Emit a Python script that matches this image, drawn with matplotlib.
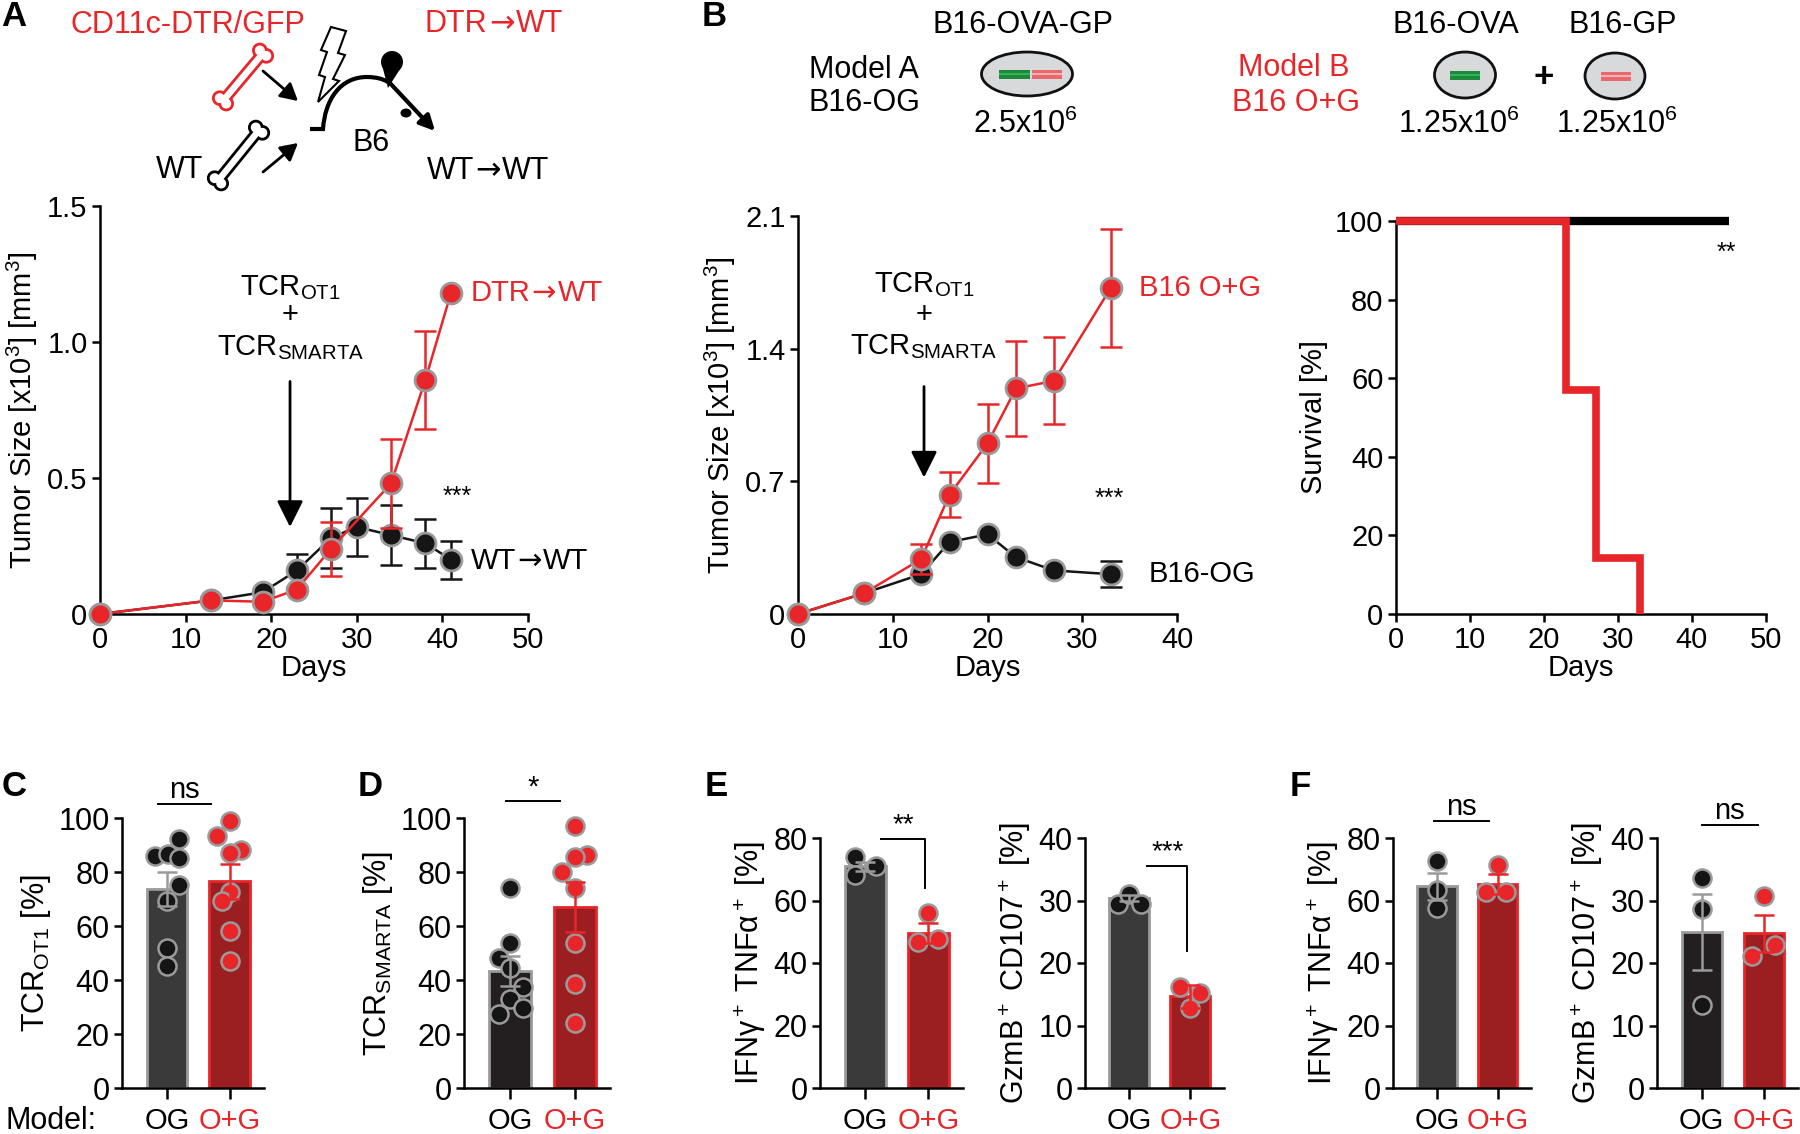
import matplotlib
matplotlib.use('Agg')
import matplotlib.pyplot as plt
from matplotlib import font_manager
from matplotlib.patches import Ellipse, Rectangle, Polygon, Circle, PathPatch
from matplotlib.path import Path
from matplotlib.offsetbox import TextArea, HPacker, AnnotationBbox

# ---- colours ----
RED = '#e8262a'
DARK_RED = '#9b1f21'
GREY_BAR = '#3a3a3a'
BLACK_BAR = '#231f20'
EDGE = '#9a9a9a'
DOT_BLACK = '#151515'

# ---- panel A: tumour growth (x10^3 mm^3) ----
a_days_wt = [0, 13, 19, 23, 27, 30, 34, 38, 41]
a_wt = [0, 0.05, 0.08, 0.16, 0.28, 0.32, 0.29, 0.26, 0.20]
a_wt_err = [0, 0, 0, 0.06, 0.11, 0.105, 0.11, 0.09, 0.07]
a_days_dtr = [0, 13, 19, 23, 27, 34, 38, 41]
a_dtr = [0, 0.05, 0.045, 0.09, 0.24, 0.48, 0.86, 1.18]
a_dtr_err = [0, 0, 0, 0, 0.10, 0.165, 0.18, 0]

# ---- panel B: tumour growth ----
b_days = [0, 7, 13, 16, 20, 23, 27, 33]
b_og = [0, 0.11, 0.21, 0.38, 0.42, 0.30, 0.23, 0.21]
b_og_err = [0, 0, 0, 0, 0, 0, 0, 0.07]
b_og_g = [0, 0.11, 0.29, 0.63, 0.90, 1.19, 1.23, 1.72]
b_og_g_err = [0, 0, 0.08, 0.12, 0.21, 0.25, 0.23, 0.31]

# ---- panel B: survival ----
surv_days_og = [0, 45]
surv_og = [100, 100]
surv_days_og_g = [0, 23, 27, 33]
surv_og_g = [100, 57.1, 14.3, 0]

# ---- bar panels: [OG, O+G] ----
c_means = [73.7, 76.5]
c_errs = [6.2, 6.5]
c_og = [92.4, 86.1, 86.7, 85.2, 75.2, 69.1, 51.9, 45.1]
c_og_g = [98.8, 93.5, 88.1, 87.0, 72.7, 69.3, 58.1, 47.2]

d_means = [43.3, 67.1]
d_errs = [5.5, 9.3]
d_og = [73.9, 53.8, 48.3, 44.3, 37.4, 32.8, 27.5, 29.7]
d_og_g = [97.2, 86.3, 85.6, 80.1, 74.0, 53.8, 38.6, 24.1]

e1_means = [70.9, 49.6]
e1_errs = [1.5, 3.3]
e1_og = [73.8, 70.9, 68.2]
e1_og_g = [55.9, 46.7, 47.6]

e2_means = [30.4, 14.65]
e2_errs = [0.5, 1.8]
e2_og = [29.4, 31.0, 29.5]
e2_og_g = [16.1, 15.2, 12.8]

f1_means = [64.5, 65.3]
f1_errs = [4.3, 3.1]
f1_og = [72.5, 63.4, 57.7]
f1_og_g = [71.5, 62.6, 62.6]

f2_means = [25.0, 24.75]
f2_errs = [6.1, 3.0]
f2_og = [33.6, 28.6, 13.3]
f2_og_g = [30.7, 22.9, 21.1]

group_labels = ['OG', 'O+G']

# horizontal scatter of the dots (fraction of bar spacing)
c_jit = [[0.19, -0.2, 0.01, 0.19, 0.19, 0, 0, 0], [0, -0.2, 0.19, 0, 0, -0.12, 0, 0]]
d_jit = [[0, 0, -0.17, 0, 0.2, 0, -0.18, 0.2], [0, 0.19, 0, -0.2, 0, 0, 0, 0]]
e1_jit = [[-0.17, 0.17, -0.17], [0, -0.16, 0.16]]
e2_jit = [[-0.18, 0, 0.19], [-0.17, 0.16, 0]]
f1_jit = [[0, 0, 0], [0, -0.19, 0.14]]
f2_jit = [[0, 0, 0], [0, 0.18, -0.19]]

W, H = 1800, 1134

names = {f.name for f in font_manager.fontManager.ttflist}
NARROW = 'Liberation Sans Narrow' if 'Liberation Sans Narrow' in names else 'Liberation Sans'

plt.rcParams['font.family'] = ['Liberation Sans', 'DejaVu Sans']
plt.rcParams['mathtext.fontset'] = 'custom'
plt.rcParams['mathtext.rm'] = 'Liberation Sans'
plt.rcParams['mathtext.it'] = 'Liberation Sans:italic'
plt.rcParams['mathtext.bf'] = 'Liberation Sans:bold'
plt.rcParams['axes.unicode_minus'] = False

FS = 21        # tick / label text in the top row
FS_SCHEME = 22  # schematic text


def px_rect(left, top, right, bottom):
    # figure fraction rectangle from pixel edges (origin top-left)
    return [left / W, 1 - bottom / H, (right - left) / W, (bottom - top) / H]


def style_axes(ax, family=None):
    for s in ['top', 'right']:
        ax.spines[s].set_visible(False)
    for s in ['left', 'bottom']:
        ax.spines[s].set_linewidth(1.8)
    ax.tick_params(direction='out', length=6, width=1.8, labelsize=20, pad=3)
    if family:
        ax.tick_params(labelfontfamily=family)
    ax.patch.set_alpha(0)


def arrow_text(ax, xy, left, right, color='black', fs=FS, align=(0.5, 0.5)):
    # "left -> right" with a wider arrow glyph taken from DejaVu Sans
    props = dict(color=color, fontsize=fs)
    box = HPacker(children=[TextArea(left, textprops=dict(props, family='Liberation Sans')),
                            TextArea('\u2192', textprops=dict(props, family='DejaVu Sans')),
                            TextArea(right, textprops=dict(props, family='Liberation Sans'))],
                  align='baseline', pad=0, sep=1)
    ab = AnnotationBbox(box, xy, xycoords='data', box_alignment=align, frameon=False,
                        pad=0, annotation_clip=False)
    ax.add_artist(ab)


def growth_series(ax, days, vals, errs, color, z):
    ax.plot(days, vals, '-o', color=color, lw=1.8, ms=15, mfc=color, mec=EDGE, mew=2,
            clip_on=False, zorder=z)
    ed = [d for d, e in zip(days, errs) if e > 0]
    ev = [v for v, e in zip(vals, errs) if e > 0]
    ee = [e for e in errs if e > 0]
    ax.errorbar(ed, ev, yerr=ee, fmt='none', ecolor=color, elinewidth=1.8, capsize=8,
                capthick=1.8, clip_on=False, zorder=z - 1)


def tcr_label(ax, x, y_top, y_plus, y_bot, arrow_from, arrow_to):
    ax.text(x, y_top, r'TCR$_{\mathrm{OT1}}$', ha='center', va='center', fontsize=FS)
    ax.text(x, y_plus, '+', ha='center', va='center', fontsize=FS)
    ax.text(x, y_bot, r'TCR$_{\mathrm{SMARTA}}$', ha='center', va='center', fontsize=FS)
    ax.annotate('', xy=(x, arrow_to), xytext=(x, arrow_from),
                arrowprops=dict(arrowstyle='-|>,head_length=0.4,head_width=0.2',
                                lw=2, color='black', mutation_scale=40, shrinkA=0, shrinkB=0))


def bar_panel(ax, means, errs, points, jitters, ymax, ystep, ylabel, og_face):
    faces = [og_face, DARK_RED]
    edges = [EDGE, RED]
    dots = [DOT_BLACK, RED]
    for i in range(2):
        ax.bar(i, means[i], width=0.65, color=faces[i], edgecolor=edges[i], linewidth=2, zorder=1)
        xs = [i + j for j in jitters[i]]
        ax.plot(xs, points[i], 'o', ms=13, mfc=dots[i], mec=EDGE, mew=1.8, clip_on=False, zorder=3)
        ax.errorbar(i, means[i], yerr=errs[i], fmt='none', ecolor=edges[i], elinewidth=1.8,
                    capsize=7, capthick=1.8, zorder=4)
    ax.set_xlim(-0.72, 1.55)
    ax.set_ylim(0, ymax)
    ax.set_yticks(range(0, ymax + 1, ystep))
    ax.set_xticks([0, 1])
    ax.set_xticklabels(group_labels)
    style_axes(ax, NARROW)
    ax.tick_params(axis='x', labelsize=21, length=8, pad=6)
    ax.tick_params(axis='y', labelsize=22, length=6)
    for lbl, c in zip(ax.get_xticklabels(), ['black', RED]):
        lbl.set_color(c)
    ax.set_ylabel(ylabel, fontsize=22, family=NARROW, labelpad=4)


def sig_line(ax, x0, x1, y, text, fs=21):
    ax.plot([x0, x1], [y, y], color='black', lw=1.4, clip_on=False)
    ax.text((x0 + x1) / 2, y, text, ha='center', va='bottom', fontsize=fs, family=NARROW)


def sig_bracket(ax, x0, x1, y, y_end, text):
    ax.plot([x0, x1, x1], [y, y, y_end], color='black', lw=1.4, clip_on=False)
    ax.text((x0 + x1) / 2, y, text, ha='center', va='bottom', fontsize=20)


def draw_bone(ov, p1, p2, color):
    dx, dy = p2[0] - p1[0], p2[1] - p1[1]
    length = (dx * dx + dy * dy) ** 0.5
    ux, uy = dx / length, dy / length
    px, py = -uy, ux
    hw, r = 3.2, 5.0
    shaft = [(p1[0] + px * hw, p1[1] + py * hw), (p2[0] + px * hw, p2[1] + py * hw),
             (p2[0] - px * hw, p2[1] - py * hw), (p1[0] - px * hw, p1[1] - py * hw)]
    knobs = []
    for (cx, cy), s in [(p1, 1), (p2, -1)]:
        for k in (1, -1):
            knobs.append((cx + px * k * 4.2 + ux * s * 1.5, cy + py * k * 4.2 + uy * s * 1.5))
    # coloured outline first, white fill on top gives the outline of the union
    for fill, lw in [(color, 4.0), ('white', 0)]:
        ov.add_patch(Polygon(shaft, closed=True, facecolor=fill, edgecolor=color, lw=lw))
        for k in knobs:
            ov.add_patch(Circle(k, r, facecolor=fill, edgecolor=color, lw=lw))


def small_arrow(ov, start, end, lw=2, scale=26):
    ov.annotate('', xy=end, xytext=start,
                arrowprops=dict(arrowstyle='-|>,head_length=0.4,head_width=0.22', lw=lw,
                                color='black', mutation_scale=scale, shrinkA=0, shrinkB=0))


def tumor_cell(ov, cx, cy, w, h):
    ov.add_patch(Ellipse((cx, cy), w, h, facecolor='#d8d9da', edgecolor='#111111', lw=2))


def gene_bar(ov, x0, x1, cy, color, light):
    ov.add_patch(Rectangle((x0, cy - 4.5), x1 - x0, 9, facecolor=color, edgecolor='none'))
    ov.add_patch(Rectangle((x0, cy - 1.2), x1 - x0, 2.4, facecolor=light, edgecolor='none'))


def draw_schematics(ov):
    # panel A: bone marrow chimera drawing
    ov.text(188, 25, 'CD11c-DTR/GFP', color=RED, fontsize=FS_SCHEME, ha='center', va='center')
    arrow_text(ov, (494, 24), 'DTR', 'WT', color=RED, fs=FS_SCHEME)
    ov.text(180, 170, 'WT', fontsize=FS_SCHEME, ha='center', va='center')
    ov.text(371, 143, 'B6', fontsize=FS_SCHEME, ha='center', va='center')
    arrow_text(ov, (488, 171), 'WT', 'WT', fs=FS_SCHEME)
    draw_bone(ov, (222, 102), (264, 52), RED)
    draw_bone(ov, (217, 182), (260, 129), 'black')
    small_arrow(ov, (263, 71), (298, 101))
    small_arrow(ov, (263, 172), (298, 143))
    bolt = [(331, 27), (346, 31), (338, 53), (345, 55), (333, 79), (339, 81), (318, 102),
            (325, 77), (319, 75), (327, 52), (321, 50)]
    ov.add_patch(Polygon(bolt, closed=True, facecolor='white', edgecolor='black', lw=1.5))
    body = Path([(310, 129), (323, 129), (325, 100), (340, 77), (367, 77), (380, 77), (388, 82)],
                [Path.MOVETO, Path.LINETO, Path.CURVE4, Path.CURVE4, Path.CURVE4,
                 Path.CURVE3, Path.CURVE3])
    ov.add_patch(PathPatch(body, facecolor='none', edgecolor='black', lw=3))
    ov.add_patch(Circle((392, 62), 11, facecolor='black', edgecolor='none'))
    ov.add_patch(Polygon([(382, 65), (402, 66), (388, 88)], closed=True, facecolor='black',
                         edgecolor='none'))
    ov.annotate('', xy=(435, 131), xytext=(388, 81),
                arrowprops=dict(arrowstyle='-|>,head_length=0.5,head_width=0.25', lw=3,
                                color='black', mutation_scale=18, shrinkA=0, shrinkB=0))
    ov.add_patch(Ellipse((406, 113), 11, 9, facecolor='black', edgecolor='none'))

    # panel B: tumour models
    ov.text(1023, 25, 'B16-OVA-GP', fontsize=FS_SCHEME, ha='center', va='center')
    tumor_cell(ov, 1027, 74, 91, 44)
    gene_bar(ov, 999, 1030, 74, '#1d8a3b', '#36b35a')
    gene_bar(ov, 1032, 1062, 74, '#e8686d', '#f6b3b5')
    ov.text(1025, 124, r'2.5x10$^6$', fontsize=FS_SCHEME, ha='center', va='center')
    ov.text(864, 70, 'Model A', fontsize=FS_SCHEME, ha='center', va='center')
    ov.text(864, 103, 'B16-OG', fontsize=FS_SCHEME, ha='center', va='center')
    ov.text(1294, 68, 'Model B', color=RED, fontsize=FS_SCHEME, ha='center', va='center')
    ov.text(1296, 103, 'B16 O+G', color=RED, fontsize=FS_SCHEME, ha='center', va='center')
    ov.text(1456, 25, 'B16-OVA', fontsize=FS_SCHEME, ha='center', va='center')
    ov.text(1623, 25, 'B16-GP', fontsize=FS_SCHEME, ha='center', va='center')
    tumor_cell(ov, 1465, 75, 61, 46)
    gene_bar(ov, 1450, 1480, 75, '#1d8a3b', '#36b35a')
    ov.text(1544, 78, '+', fontsize=25, fontweight='bold', ha='center', va='center')
    tumor_cell(ov, 1615, 76, 60, 46)
    gene_bar(ov, 1601, 1631, 76, '#e8686d', '#f6b3b5')
    ov.text(1459, 124, r'1.25x10$^6$', fontsize=FS_SCHEME, ha='center', va='center')
    ov.text(1617, 124, r'1.25x10$^6$', fontsize=FS_SCHEME, ha='center', va='center')

    # panel letters
    for letter, x, y in [('A', 14, 17), ('B', 714, 17), ('C', 14, 787), ('D', 370, 787),
                         ('E', 716, 787), ('F', 1300, 787)]:
        ov.text(x, y, letter, fontsize=25, fontweight='bold', ha='center', va='center')
    ov.text(6, 1121, 'Model:', fontsize=22, family=NARROW, ha='left', va='center')


def main():
    fig = plt.figure(figsize=(W / 100, H / 100), dpi=100)

    ov = fig.add_axes([0, 0, 1, 1])
    ov.set_xlim(0, W)
    ov.set_ylim(H, 0)
    ov.axis('off')
    draw_schematics(ov)

    # ---- A ----
    ax = fig.add_axes(px_rect(100, 206, 528, 614))
    growth_series(ax, a_days_wt, a_wt, a_wt_err, DOT_BLACK, 4)
    growth_series(ax, a_days_dtr, a_dtr, a_dtr_err, RED, 6)
    ax.set_xlim(0, 50)
    ax.set_ylim(0, 1.5)
    ax.set_xticks(range(0, 51, 10))
    ax.set_yticks([0, 0.5, 1.0, 1.5])
    ax.set_yticklabels(['0', '0.5', '1.0', '1.5'])
    style_axes(ax)
    ax.tick_params(labelsize=FS)
    ax.set_xlabel('Days', fontsize=FS, labelpad=0)
    ax.set_ylabel(r'Tumor Size [x10$^3$] [mm$^3$]', fontsize=FS, labelpad=5)
    tcr_label(ax, 22.2, 1.20, 1.10, 0.98, 0.855, 0.32)
    arrow_text(ax, (43.3, 1.18), 'DTR', 'WT', color=RED, align=(0, 0.5))
    arrow_text(ax, (43.3, 0.195), 'WT', 'WT', align=(0, 0.5))
    ax.text(41.7, 0.43, '***', fontsize=18, ha='center', va='center')

    # ---- B growth ----
    ax = fig.add_axes(px_rect(798, 216, 1177, 614))
    growth_series(ax, b_days, b_og, b_og_err, DOT_BLACK, 4)
    growth_series(ax, b_days, b_og_g, b_og_g_err, RED, 6)
    ax.set_xlim(0, 40)
    ax.set_ylim(0, 2.1)
    ax.set_xticks(range(0, 41, 10))
    ax.set_yticks([0, 0.7, 1.4, 2.1])
    ax.set_yticklabels(['0', '0.7', '1.4', '2.1'])
    style_axes(ax)
    ax.tick_params(labelsize=FS)
    ax.set_xlabel('Days', fontsize=FS, labelpad=0)
    ax.set_ylabel(r'Tumor Size [x10$^3$] [mm$^3$]', fontsize=FS, labelpad=5)
    tcr_label(ax, 13.3, 1.74, 1.58, 1.41, 1.20, 0.72)
    ax.text(36.0, 1.72, 'B16 O+G', color=RED, fontsize=FS, va='center')
    ax.text(37.0, 0.21, 'B16-OG', fontsize=FS, va='center')
    ax.text(32.8, 0.61, '***', fontsize=18, ha='center', va='center')

    # ---- B survival ----
    ax = fig.add_axes(px_rect(1396, 221, 1766, 614))
    ax.step(surv_days_og, surv_og, where='post', color='black', lw=6, solid_capstyle='butt',
            clip_on=False, zorder=3)
    ax.step(surv_days_og_g, surv_og_g, where='post', color=RED, lw=5.5, solid_capstyle='butt',
            solid_joinstyle='miter', clip_on=False, zorder=4)
    ax.set_xlim(0, 50)
    ax.set_ylim(0, 100)
    ax.set_xticks(range(0, 51, 10))
    ax.set_yticks(range(0, 101, 20))
    style_axes(ax)
    ax.tick_params(labelsize=FS)
    ax.set_xlabel('Days', fontsize=FS, labelpad=0)
    ax.set_ylabel('Survival [%]', fontsize=FS, labelpad=5)
    ax.text(44.7, 92.0, '**', fontsize=18, ha='center', va='center')

    # ---- C ----
    ax = fig.add_axes(px_rect(122, 818, 264, 1088))
    bar_panel(ax, c_means, c_errs, [c_og, c_og_g], c_jit, 100, 20,
              r'TCR$_{\mathrm{OT1}}$ [%]', GREY_BAR)
    sig_line(ax, -0.14, 0.71, 105.3, 'ns')

    # ---- D ----
    ax = fig.add_axes(px_rect(464, 818, 610, 1088))
    bar_panel(ax, d_means, d_errs, [d_og, d_og_g], d_jit, 100, 20,
              r'TCR$_{\mathrm{SMARTA}}$ [%]', BLACK_BAR)
    sig_line(ax, -0.07, 0.78, 106.2, '*')

    # ---- E ----
    ax = fig.add_axes(px_rect(820, 838, 963, 1088))
    bar_panel(ax, e1_means, e1_errs, [e1_og, e1_og_g], e1_jit, 80, 20,
              'IFN\u03b3$^+$ TNF\u03b1$^+$ [%]', GREY_BAR)
    sig_bracket(ax, 0.25, 0.95, 79.8, 64, '**')

    ax = fig.add_axes(px_rect(1085, 838, 1224, 1088))
    bar_panel(ax, e2_means, e2_errs, [e2_og, e2_og_g], e2_jit, 40, 10,
              'GzmB$^+$ CD107$^+$ [%]', GREY_BAR)
    sig_bracket(ax, 0.3, 0.95, 35.6, 22, '***')

    # ---- F ----
    ax = fig.add_axes(px_rect(1393, 838, 1531, 1088))
    bar_panel(ax, f1_means, f1_errs, [f1_og, f1_og_g], f1_jit, 80, 20,
              'IFN\u03b3$^+$ TNF\u03b1$^+$ [%]', GREY_BAR)
    sig_line(ax, -0.05, 0.86, 85.4, 'ns')

    ax = fig.add_axes(px_rect(1657, 838, 1798, 1088))
    bar_panel(ax, f2_means, f2_errs, [f2_og, f2_og_g], f2_jit, 40, 10,
              'GzmB$^+$ CD107$^+$ [%]', BLACK_BAR)
    sig_line(ax, 0.0, 0.9, 42.1, 'ns')

    fig.savefig('out.png', dpi=100)
    plt.close(fig)


if __name__ == '__main__':
    main()
